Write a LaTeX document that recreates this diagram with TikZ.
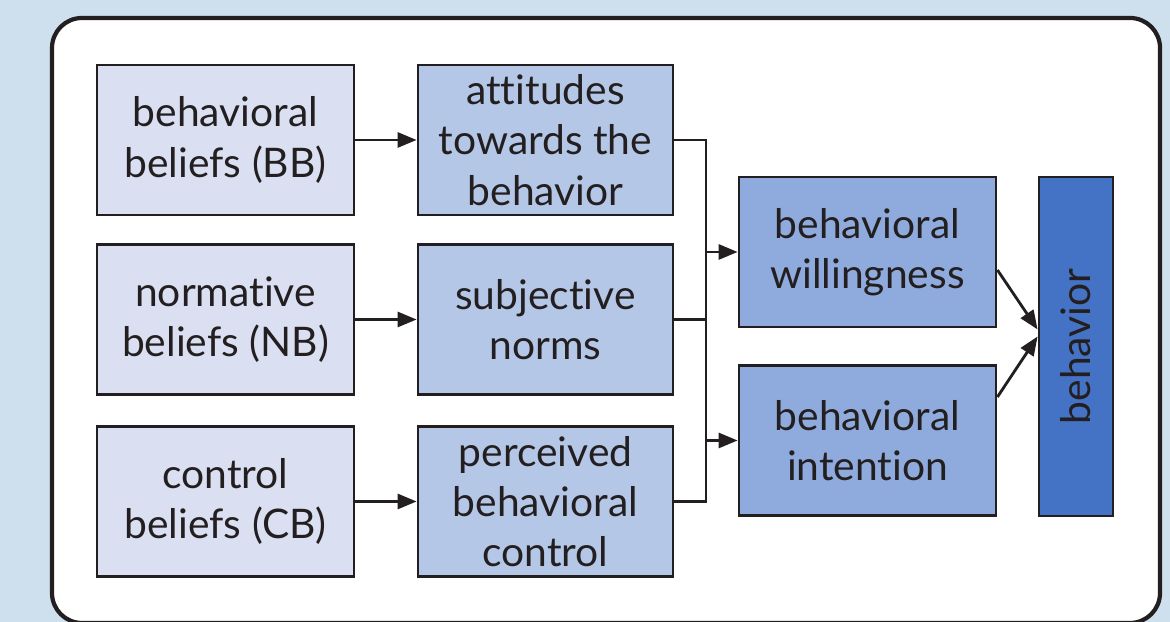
\documentclass[tikz,border=0pt]{standalone}
\usepackage{fontspec}
\setmainfont[Ligatures=NoCommon]{Lato}
\usepackage{tikz}
\usepackage{xcolor}
\usetikzlibrary{arrows.meta}

\definecolor{bgblue}{HTML}{CEE0ED}
\definecolor{inkdark}{HTML}{231F20}
\definecolor{beliefcol}{HTML}{DAE0F2}
\definecolor{factorcol}{HTML}{B4C7E7}
\definecolor{intentcol}{HTML}{8FAADC}
\definecolor{behavcol}{HTML}{4472C4}

\tikzset{
  box/.style={draw=inkdark, line width=0.8pt, text=inkdark, align=center,
    inner sep=0pt, font=\fontsize{11.6}{14.3}\selectfont},
  belief/.style={box, fill=beliefcol, minimum width=2.57cm, minimum height=1.5cm},
  factor/.style={box, fill=factorcol, minimum width=2.55cm, minimum height=1.5cm},
  intent/.style={box, fill=intentcol, minimum width=2.57cm, minimum height=1.5cm},
  link/.style={draw=inkdark, line width=0.8pt},
  arrow/.style={link, -{Triangle[length=0.19cm,width=0.15cm]}}
}

\begin{document}
\begin{tikzpicture}
  \useasboundingbox (0,0) rectangle (11.7,6.22);
  \fill[bgblue] (0,0) rectangle (11.7,6.22);

  % White panel
  \draw[inkdark, fill=white, line width=1.2pt, rounded corners=0.3cm]
    (0.52,-0.01) rectangle (11.60,6.04);

  % Beliefs column
  \node[belief] (bb) at (2.255,4.82) {behavioral\\beliefs (BB)};
  \node[belief] (nb) at (2.255,3.025) {normative\\beliefs (NB)};
  \node[belief] (cb) at (2.255,1.205) {control\\beliefs (CB)};

  % Second column
  \node[factor] (att) at (5.455,4.82) {attitudes\\towards the\\behavior};
  \node[factor] (norms) at (5.455,3.025) {subjective\\norms};
  \node[factor] (pbc) at (5.455,1.205) {perceived\\behavioral\\control};

  % Willingness and intention
  \node[intent] (will) at (8.675,3.70) {behavioral\\willingness};
  \node[intent] (int) at (8.675,1.815) {behavioral\\intention};

  % Behavior
  \node[box, fill=behavcol, minimum width=0.74cm, minimum height=3.39cm] (beh) at (10.76,2.755) {};
  \node[text=inkdark, rotate=90, font=\fontsize{11.6}{14.3}\selectfont] (behtext) at (beh.center) {behavior};

  % Beliefs to factors
  \draw[arrow] (bb.east) -- (att.west);
  \draw[arrow] (nb.east) -- (norms.west);
  \draw[arrow] (cb.east) -- (pbc.west);

  % Collecting line
  \coordinate (bus) at (7.06,0);
  \draw[link] (att.east) -- (att.east -| bus) -- (pbc.east -| bus) -- (pbc.east);
  \draw[link] (norms.east) -- (norms.east -| bus);
  \draw[arrow] (will.west -| bus) -- (will.west);
  \draw[arrow] (int.west -| bus) -- (int.west);

  % To behavior
  \draw[arrow] ([yshift=-0.18cm]will.east) -- ([yshift=0.17cm]beh.west);
  \draw[arrow] ([yshift=0.435cm]int.east) -- ([yshift=0.1cm]beh.west);
\end{tikzpicture}
\end{document}
